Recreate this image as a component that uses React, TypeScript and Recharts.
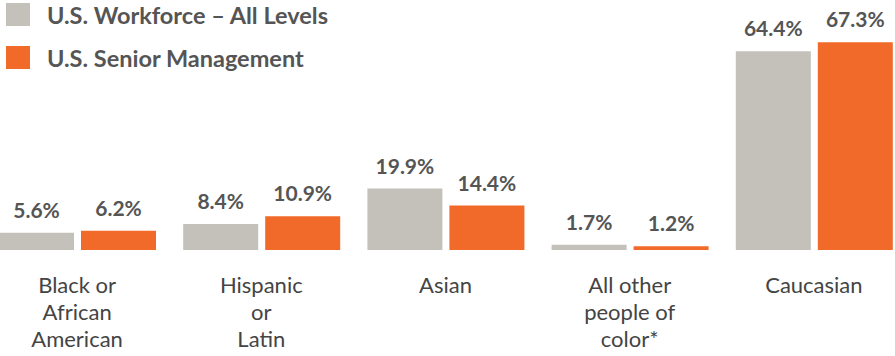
import React from 'react';
import { BarChart, Bar, XAxis, YAxis, Legend, LabelList } from 'recharts';

const categories = ['Black or\nAfrican\nAmerican', 'Hispanic\nor\nLatin', 'Asian', 'All other\npeople of\ncolor*', 'Caucasian'];
const workforce = [5.6, 8.4, 19.9, 1.7, 64.4];
const seniorMgmt = [6.2, 10.9, 14.4, 1.2, 67.3];
const seriesNames = ['U.S. Workforce – All Levels', 'U.S. Senior Management'];

const GRAY = '#c4c1ba';
const ORANGE = '#f26a29';
const FONT = 'Lato, "Open Sans", sans-serif';

const data = categories.map((c, i) => ({ category: c, workforce: workforce[i], senior: seniorMgmt[i] }));

const CategoryTick = (props: any) => {
    const { x, y, payload } = props;
    const lines = String(payload.value).split('\n');
    return (
        <text x={x} y={y + 35} textAnchor="middle" fill="#444" fontFamily={FONT} fontSize={22}>
            {lines.map((l: string, i: number) => (
                <tspan key={i} x={x} dy={i === 0 ? 0 : 27}>{l}</tspan>
            ))}
        </text>
    );
};

const LegendBox = (props: any) => {
    const items = [...(props.payload || [])].sort(
        (a: any, b: any) => seriesNames.indexOf(a.value) - seriesNames.indexOf(b.value));
    return (
        <div style={{ fontFamily: FONT }}>
            {items.map((it: any, i: number) => (
                <div key={i} style={{ display: 'flex', alignItems: 'center', height: 43 }}>
                    <div style={{ width: 24, height: 23, background: it.color, marginRight: 17 }} />
                    <span style={{ fontWeight: 700, fontSize: 23.5, color: '#555' }}>{it.value}</span>
                </div>
            ))}
        </div>
    );
};

const pct = (v: any) => `${Number(v).toFixed(1)}%`;

export default function App() {
    return (
        <div style={{ position: 'absolute', left: 0, top: 0, width: 895, height: 356, overflow: 'hidden', background: '#fff' }}>
            <div style={{ marginLeft: -15 }}>
                <BarChart width={921} height={356} data={data} margin={{ top: 34, right: 0, bottom: 0, left: 0 }}
                    barCategoryGap={13.5} barGap={7}>
                    <XAxis dataKey="category" axisLine={false} tickLine={false} height={106} interval={0} tick={<CategoryTick />} />
                    <YAxis hide domain={[0, 70]} />
                    <Legend layout="horizontal" verticalAlign="middle" align="center" content={<LegendBox />}
                        wrapperStyle={{ top: -7, left: 21, width: 'auto' }} />
                    <Bar dataKey="workforce" name={seriesNames[0]} fill={GRAY} barSize={75} isAnimationActive={false}>
                        <LabelList dataKey="workforce" position="top" offset={15} formatter={pct}
                            fill="#555" fontFamily={FONT} fontWeight={700} fontSize={21} />
                    </Bar>
                    <Bar dataKey="senior" name={seriesNames[1]} fill={ORANGE} barSize={75} isAnimationActive={false}>
                        <LabelList dataKey="senior" position="top" offset={15} formatter={pct}
                            fill="#555" fontFamily={FONT} fontWeight={700} fontSize={21} />
                    </Bar>
                </BarChart>
            </div>
        </div>
    );
}
